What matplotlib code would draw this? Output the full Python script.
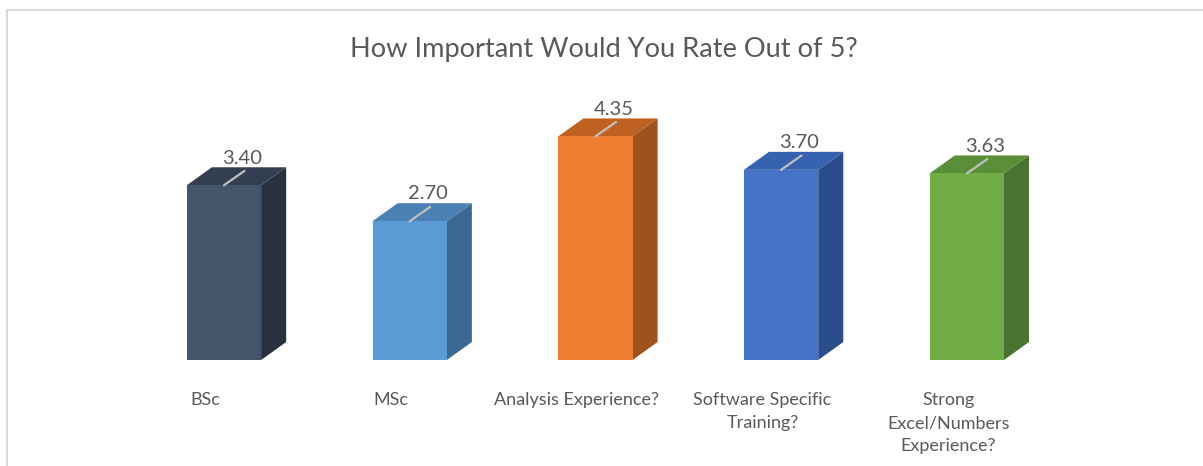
import matplotlib.pyplot as plt
from matplotlib.patches import Polygon, Rectangle

# Survey results: average importance rating out of 5
categories = ["BSc", "MSc", "Analysis Experience?",
              "Software Specific\nTraining?", "Strong\nExcel/Numbers\nExperience?"]
ratings = [3.40, 2.70, 4.35, 3.70, 3.63]

front_colors = ["#44546A", "#5B9BD5", "#ED7D31", "#4472C4", "#70AD47"]
top_colors = ["#333F50", "#4A80B3", "#BF6120", "#3662B0", "#5A8F37"]
side_colors = ["#28313F", "#3B6993", "#A0521C", "#2C4D8C", "#497430"]

TEXT = "#595959"
FONT = ["Lato", "DejaVu Sans"]

fig = plt.figure(figsize=(12.03, 4.66), dpi=100)
ax = fig.add_axes([0, 0, 1, 1])
ax.set_xlim(-1.206, 5.272)
ax.set_ylim(-2.062, 7.004)
ax.axis("off")

# chart area outline (only top and left edges show)
fig.patches.append(Rectangle((7 / 1203, -0.1), 1.2, (456 / 466) + 0.1,
                             transform=fig.transFigure, fill=False,
                             edgecolor="#D9D9D9", lw=1.5))

width = 0.40
dx, dy = 0.135, 0.35   # depth of the pseudo-3D extrusion

xs = list(range(len(ratings)))
ax.bar(xs, ratings, width=width, color=front_colors, zorder=3)

for x, v, tc, sc in zip(xs, ratings, top_colors, side_colors):
    l, r = x - width / 2, x + width / 2
    side = Polygon([(r, 0), (r + dx, dy), (r + dx, v + dy), (r, v)],
                   closed=True, facecolor=sc, edgecolor="none", zorder=2)
    top = Polygon([(l, v), (r, v), (r + dx, v + dy), (l + dx, v + dy)],
                  closed=True, facecolor=tc, edgecolor="none", zorder=2)
    ax.add_patch(side)
    ax.add_patch(top)
    # leader line from the top face to the value label
    ax.plot([x, x + 0.82 * dx], [v, v + 0.8 * dy], color="#BFBFBF",
            lw=1.6, solid_capstyle="round", zorder=4)
    ax.text(x + 0.097, v + 0.53, f"{v:.2f}", ha="center", va="center",
            fontsize=14.5, color=TEXT, family=FONT, zorder=5)

for x, lab in zip(xs, categories):
    ax.text(x - 0.1, -0.62, lab, ha="center", va="top", fontsize=13,
            color=TEXT, family=FONT, linespacing=1.55)

fig.text(604 / 1203, 1 - 49 / 466, "How Important Would You Rate Out of 5?",
         ha="center", va="center", fontsize=19.6, color=TEXT, family=FONT)

fig.savefig("out.png", dpi=100, facecolor="white")
